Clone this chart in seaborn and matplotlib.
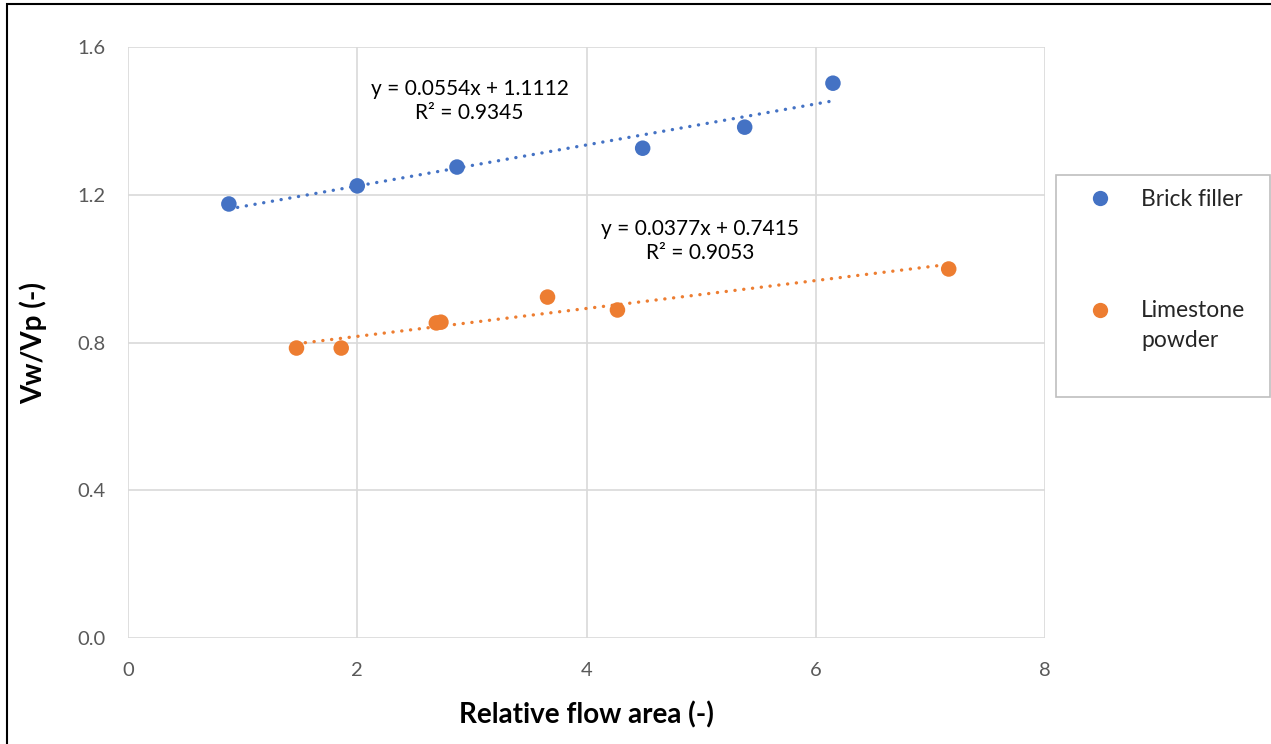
import matplotlib
matplotlib.use("Agg")
import matplotlib.pyplot as plt
import seaborn as sns
import numpy as np
import pandas as pd
from matplotlib.patches import Rectangle
from matplotlib.lines import Line2D
from matplotlib.legend_handler import HandlerLine2D

brick_x = [0.88, 2.00, 2.87, 4.49, 5.38, 6.15]
brick_y = [1.175, 1.224, 1.275, 1.326, 1.383, 1.502]
lime_x = [1.47, 1.86, 2.69, 2.73, 3.66, 4.27, 7.16]
lime_y = [0.785, 0.785, 0.853, 0.855, 0.923, 0.888, 0.999]
series_names = ["Brick filler", "Limestone\npowder"]
eq_texts = ["y = 0.0554x + 1.1112\nR² = 0.9345", "y = 0.0377x + 0.7415\nR² = 0.9053"]
xticks = [0, 2, 4, 6, 8]
yticks = [0.0, 0.4, 0.8, 1.2, 1.6]

BLUE = "#4472C4"
ORANGE = "#ED7D31"

sns.set_theme(style="white")
plt.rcParams['font.family'] = ['Lato', 'DejaVu Sans']

fig = plt.figure(figsize=(12.71, 7.44), dpi=100)
W, H = 1271, 744
ax = fig.add_axes([128 / W, 1 - 638 / H, (1045 - 128) / W, (638 - 47) / H])

df_b = pd.DataFrame({"x": brick_x, "y": brick_y})
df_l = pd.DataFrame({"x": lime_x, "y": lime_y})

line_kws = dict(linestyle=(0, (0.05, 2.6)), linewidth=2.4, dash_capstyle="round")
sns.regplot(data=df_b, x="x", y="y", scatter=False, ci=None, ax=ax,
            color=BLUE, line_kws=line_kws)
sns.regplot(data=df_l, x="x", y="y", scatter=False, ci=None, ax=ax,
            color=ORANGE, line_kws=line_kws)
sns.scatterplot(data=df_b, x="x", y="y", ax=ax, color=BLUE, s=125,
                edgecolor="none", zorder=5)
sns.scatterplot(data=df_l, x="x", y="y", ax=ax, color=ORANGE, s=125,
                edgecolor="none", zorder=5)

ax.set_xlim(0, 8)
ax.set_ylim(0, 1.6)
ax.set_xticks(xticks)
ax.set_yticks(yticks)
ax.set_xticklabels([str(t) for t in xticks])
ax.set_yticklabels([f"{t:.1f}" for t in yticks])
ax.tick_params(axis="both", labelsize=14.5, colors="#595959", length=0)
ax.tick_params(axis="x", pad=17)
ax.tick_params(axis="y", pad=16)
ax.grid(True, color="#d9d9d9", linewidth=1.2)
ax.set_axisbelow(True)
for side, sp in ax.spines.items():
    sp.set_visible(False)

ax.set_xlabel("Relative flow area (-)", fontsize=20, fontweight="bold",
              color="black", labelpad=16)
ax.set_ylabel("Vw/Vp (-)", fontsize=20, fontweight="bold", color="black",
              labelpad=22)

ax.text(2.98, 1.454, eq_texts[0], ha="center", va="center", fontsize=15,
        color="black", linespacing=1.2)
ax.text(4.99, 1.075, eq_texts[1], ha="center", va="center", fontsize=15,
        color="black", linespacing=1.2)

# legend box
fig.patches.append(Rectangle((1056 / W, 1 - 397 / H), (1270 - 1056) / W,
                             (397 - 175) / H, transform=fig.transFigure,
                             facecolor="white", edgecolor="#bfbfbf",
                             linewidth=1.2, zorder=3))


class TopHandler(HandlerLine2D):
    def __init__(self, dy=0.0, **kw):
        super().__init__(**kw)
        self.dy = dy

    def create_artists(self, legend, orig_handle, xdescent, ydescent,
                       width, height, fontsize, trans):
        arts = super().create_artists(legend, orig_handle, xdescent, ydescent,
                                      width, height, fontsize, trans)
        for a in arts:
            a.set_ydata([v + self.dy for v in a.get_ydata()])
        return arts


handles = [Line2D([], [], marker="o", linestyle="none", markersize=11,
                  markerfacecolor=c, markeredgecolor="none") for c in (BLUE, ORANGE)]
leg = fig.legend(handles, series_names, loc="upper left",
                 bbox_to_anchor=(1082 / W, 1 - 180 / H), frameon=False,
                 fontsize=16.5, labelspacing=3.9, handletextpad=1.38,
                 handlelength=0.8, borderaxespad=0,
                 handler_map={handles[0]: TopHandler(0.0),
                              handles[1]: TopHandler(11.0)})
for t in leg.get_texts():
    t.set_linespacing(1.55)
leg.set_zorder(4)

# outer frame
fig.patches.append(Rectangle((7 / W, -0.01), 1.1, 1 - 4 / H + 0.01,
                             transform=fig.transFigure, facecolor="none",
                             edgecolor="black", linewidth=1.5, zorder=10))

fig.savefig("out.png", dpi=100)
